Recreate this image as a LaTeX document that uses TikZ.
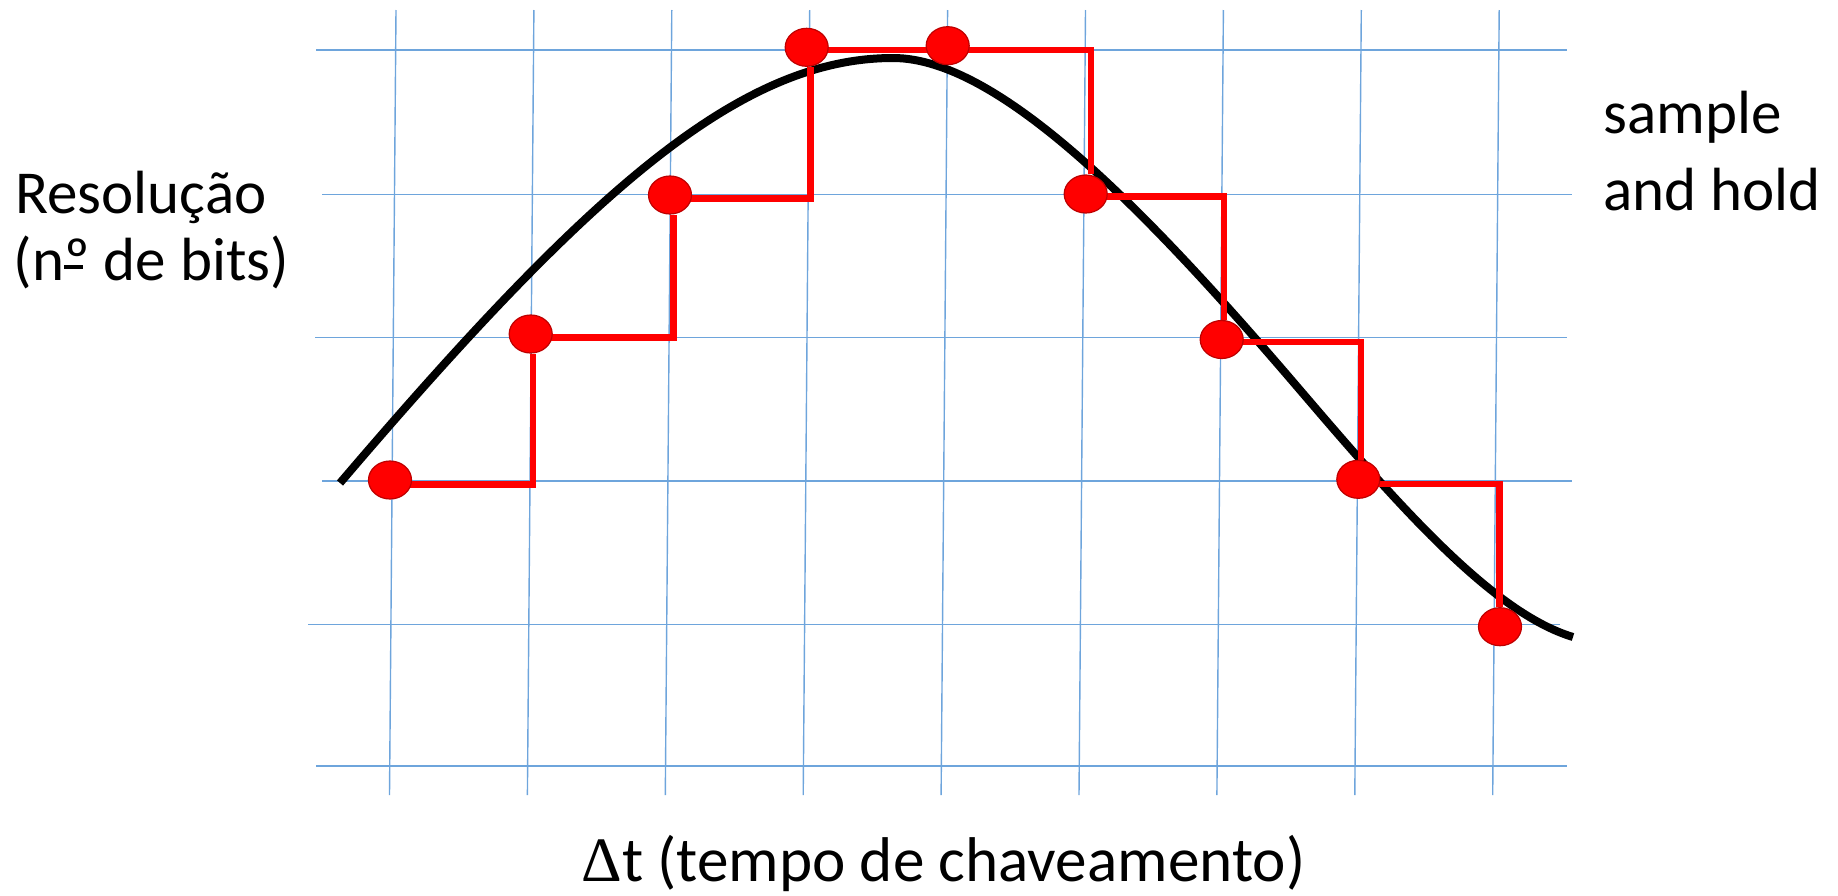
\documentclass[tikz,border=0pt]{standalone}
\usepackage{fontspec}
\setmainfont{Carlito}
\newfontfamily\symfont{Liberation Serif}
\usetikzlibrary{shapes.geometric}
\pgfdeclarelayer{gridlayer}
\pgfdeclarelayer{linelayer}
\pgfsetlayers{gridlayer,linelayer,main}
\definecolor{gridblue}{RGB}{110,165,220}
\definecolor{dotred}{RGB}{255,0,0}
\definecolor{dotedge}{RGB}{190,0,0}
\begin{document}
\begin{tikzpicture}[x=0.5pt,y=-0.5pt,
  gridline/.style={draw=gridblue,line width=0.7pt},
  signal/.style={draw=black,line width=4pt},
  holdline/.style={draw=red,line width=3.2pt,line join=miter},
  sampledot/.style={ellipse,fill=dotred,draw=dotedge,line width=0.6pt,minimum width=21.5pt,minimum height=19pt,inner sep=0pt},
  txt/.style={anchor=base west,inner sep=0pt,font=\fontsize{30.5}{36}\selectfont}]
\useasboundingbox (0,0) rectangle (1838,895);

% grid
\begin{pgfonlayer}{gridlayer}
\foreach \y/\a/\b in {50/316/1567, 194.5/322/1572, 337.5/315/1567, 481/322/1572, 624.5/308/1560, 766/316/1567}
  \draw[gridline] (\a,\y) -- (\b,\y);
\foreach \i in {0,...,8}
  \draw[gridline] ({396+137.9*\i},10) -- ({389.5+137.9*\i},795);
\end{pgfonlayer}

% sample points
\node[sampledot] (d1) at (390,480) {};
\node[sampledot] (d2) at (530.7,334) {};
\node[sampledot] (d3) at (670,195) {};
\node[sampledot] (d4) at (806.7,47.3) {};
\node[sampledot] (d5) at (947.7,45.7) {};
\node[sampledot] (d6) at (1085.7,194) {};
\node[sampledot] (d7) at (1221.7,339.5) {};
\node[sampledot] (d8) at (1358.3,479.3) {};
\node[sampledot] (d9) at (1500,626.7) {};

\coordinate (c1) at (533,484.3);
\coordinate (c2) at (673.5,337.3);
\coordinate (c3) at (810.5,198.3);
\coordinate (c4) at (1091,50);
\coordinate (c5) at (1224,196.5);
\coordinate (c6) at (1361,341.7);
\coordinate (c7) at (1499.5,484);

\begin{pgfonlayer}{linelayer}
% analog signal
\draw[signal] (340,483) .. controls (590,190) and (740,58) .. (893,58)
  .. controls (1000,58) and (1150,214.5) .. (1300,390)
  .. controls (1400,507) and (1493,613) .. (1573,637);
% sample and hold staircase
\draw[holdline] (d1.center |- c1) -- (c1) -- (c1 |- d2.south);
\draw[holdline] (d2.center |- c2) -- (c2) -- (c2 |- d3.south);
\draw[holdline] (d3.center |- c3) -- (c3) -- (c3 |- d4.south);
\draw[holdline] (d4.center |- c4) -- (c4) -- (c4 |- d6.north);
\draw[holdline] (d6.center |- c5) -- (c5) -- (c5 |- d7.north);
\draw[holdline] (d7.center |- c6) -- (c6) -- (c6 |- d8.north);
\draw[holdline] (d8.center |- c7) -- (c7) -- (c7 |- d9.north);
\end{pgfonlayer}

% labels
\node[txt] (res) at (15,213.3) {Resolução};
\node[txt] (bits) at (13.5,280.7) {(n\makebox[0pt][l]{\rule[0.2em]{0.3em}{0.05em}}º de bits)};
\node[txt] (samp) at (1603,133.3) {sample};
\node[txt] (andhold) at (1603,210) {and hold};
\node[txt,font=\fontsize{31.6}{36}\selectfont] (dt) at (581,881) {{\symfont Δ}t (tempo de chaveamento)};
\end{tikzpicture}
\end{document}
